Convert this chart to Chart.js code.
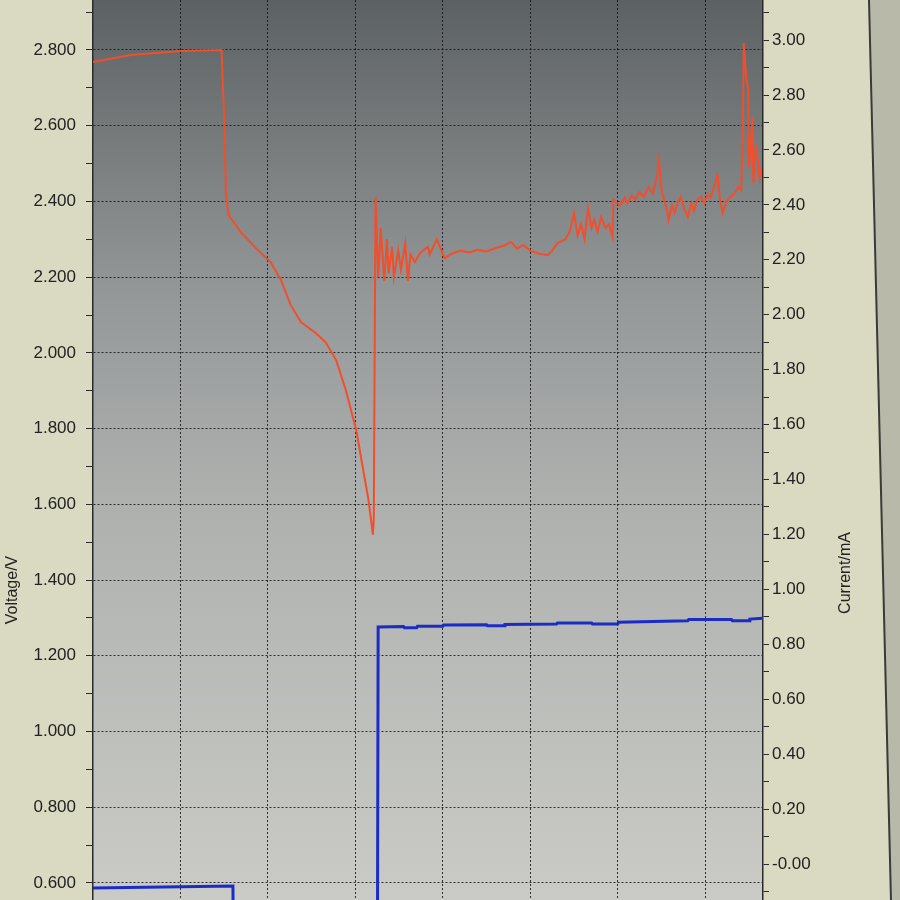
<!DOCTYPE html>
<html>
<head>
<meta charset="utf-8">
<title>Voltage / Current</title>
<script src="https://cdn.jsdelivr.net/npm/chart.js@4.4.1/dist/chart.umd.min.js"></script>
<style>
    html, body { margin: 0; padding: 0; background: #dad9c1; }
    #wrap { width: 900px; height: 900px; position: relative; }
</style>
</head>
<body>
<div id="wrap"><canvas id="ivChart"></canvas></div>
<script>

// ======================================================
// Data
// ======================================================

// x positions in grid divisions
const voltageX = [
    0.00, 0.43, 1.01, 1.47, 1.50, 1.52, 1.55, 1.69, 1.86, 2.03,
    2.15, 2.26, 2.38, 2.55, 2.66, 2.78, 2.89, 3.01, 3.09, 3.15,
    3.20, 3.21, 3.23, 3.26, 3.29, 3.33, 3.36, 3.38, 3.42, 3.44,
    3.49, 3.52, 3.57, 3.60, 3.63, 3.68, 3.73, 3.77, 3.83, 3.85,
    3.93, 4.02, 4.10, 4.20, 4.30, 4.40, 4.50, 4.60, 4.70, 4.78,
    4.85, 4.92, 5.00, 5.10, 5.20, 5.25, 5.31, 5.40, 5.45, 5.50,
    5.54, 5.58, 5.62, 5.66, 5.70, 5.73, 5.77, 5.81, 5.86, 5.90,
    5.94, 5.95, 6.03, 6.08, 6.11, 6.16, 6.20, 6.25, 6.30, 6.35,
    6.40, 6.45, 6.47, 6.50, 6.53, 6.56, 6.58, 6.62, 6.65, 6.69,
    6.72, 6.76, 6.80, 6.84, 6.87, 6.91, 6.95, 6.99, 7.03, 7.06,
    7.10, 7.14, 7.17, 7.20, 7.24, 7.29, 7.33, 7.38, 7.41, 7.43,
    7.44, 7.47, 7.49, 7.50, 7.52, 7.54, 7.55, 7.58, 7.60, 7.62,
    7.64
];

const voltageV = [
    2.768, 2.787, 2.797, 2.800, 2.615, 2.417, 2.364, 2.319, 2.277, 2.240,
    2.192, 2.126, 2.081, 2.052, 2.028, 1.981, 1.902, 1.796, 1.690, 1.611,
    1.520, 1.560, 2.412, 2.200, 2.330, 2.190, 2.300, 2.210, 2.280, 2.200,
    2.270, 2.220, 2.290, 2.190, 2.260, 2.240, 2.260, 2.270, 2.280, 2.260,
    2.300, 2.250, 2.262, 2.270, 2.265, 2.272, 2.268, 2.277, 2.283, 2.293,
    2.275, 2.285, 2.270, 2.262, 2.258, 2.270, 2.290, 2.300, 2.320, 2.369,
    2.310, 2.340, 2.300, 2.383, 2.330, 2.351, 2.320, 2.359, 2.330, 2.340,
    2.306, 2.404, 2.390, 2.410, 2.395, 2.415, 2.405, 2.425, 2.412, 2.438,
    2.420, 2.470, 2.509, 2.430, 2.404, 2.380, 2.351, 2.390, 2.370, 2.400,
    2.412, 2.380, 2.359, 2.395, 2.375, 2.405, 2.412, 2.395, 2.420, 2.410,
    2.438, 2.470, 2.400, 2.369, 2.400, 2.412, 2.420, 2.438, 2.430, 2.600,
    2.818, 2.720, 2.702, 2.491, 2.550, 2.623, 2.449, 2.550, 2.509, 2.460,
    2.490
];

const currentX = [
    0.00, 1.60, 1.61, 3.25, 3.26, 3.55, 3.56, 3.70, 3.71, 4.00,
    4.01, 4.50, 4.51, 4.70, 4.71, 5.30, 5.31, 5.70, 5.71, 6.00,
    6.01, 6.80, 6.81, 7.30, 7.31, 7.50, 7.51, 7.66
];

const currentI = [
    -0.087, -0.080, -0.600, -0.600, 0.863, 0.865, 0.860, 0.860, 0.866, 0.866,
    0.870, 0.871, 0.868, 0.868, 0.872, 0.874, 0.878, 0.878, 0.874, 0.874,
    0.880, 0.886, 0.890, 0.890, 0.886, 0.886, 0.892, 0.895
];

// vertical grid lines
const gridX = [1, 2, 3, 4, 5, 6, 7];

// left axis (voltage) major ticks and labels
const voltageTicks = [0.6, 0.8, 1.0, 1.2, 1.4, 1.6, 1.8, 2.0, 2.2, 2.4, 2.6, 2.8];
const voltageLabels = ["0.600", "0.800", "1.000", "1.200", "1.400", "1.600",
                       "1.800", "2.000", "2.200", "2.400", "2.600", "2.800"];

// right axis (current) major ticks and labels
const currentTicks = [0.0, 0.2, 0.4, 0.6, 0.8, 1.0, 1.2, 1.4, 1.6, 1.8, 2.0, 2.2, 2.4, 2.6, 2.8, 3.0];
const currentLabels = ["-0.00", "0.20", "0.40", "0.60", "0.80", "1.00", "1.20", "1.40",
                       "1.60", "1.80", "2.00", "2.20", "2.40", "2.60", "2.80", "3.00"];

// visible window of the photographed screen
const xRange = [0, 7.66];
const voltageRange = [0.555, 2.932];
const currentRange = [-0.131, 3.146];


// ======================================================
// Helpers
// ======================================================

function withMinorTicks(majors, step, min, max) {

    const out = [];

    for (let v = majors[0] - step; v <= majors[majors.length - 1] + step + 1e-9; v += step / 2) {

        const r = Math.round(v * 100) / 100;

        if (r >= min && r <= max) out.push({ value: r });

    }

    return out;

}

function labelFor(value, majors, labels) {

    const i = majors.findIndex(m => Math.abs(m - value) < 1e-6);

    return i >= 0 ? labels[i] : "";

}

function isMajor(value, majors) {

    return majors.some(m => Math.abs(m - value) < 1e-6);

}

const tickFont = { family: "'Liberation Sans', Arial, sans-serif", size: 17 };
const gridDotted = "rgba(20, 20, 20, 0.85)";


// ======================================================
// Background + rotated axis titles
// ======================================================

const screenPlugin = {

    id: "screen",

    beforeDraw(chart) {

        const { ctx, chartArea: a, width, height } = chart;

        ctx.save();

        ctx.fillStyle = "#dad9c1";
        ctx.fillRect(0, 0, width, height);

        // monitor bezel on the right
        ctx.fillStyle = "#b9b9aa";
        ctx.beginPath();
        ctx.moveTo(869, 0);
        ctx.lineTo(width, 0);
        ctx.lineTo(width, height);
        ctx.lineTo(891, height);
        ctx.closePath();
        ctx.fill();

        ctx.strokeStyle = "#3a3a38";
        ctx.lineWidth = 2;
        ctx.beginPath();
        ctx.moveTo(869, 0);
        ctx.lineTo(891, height);
        ctx.stroke();

        // plot area gradient
        const g = ctx.createLinearGradient(0, a.top, 0, a.bottom);
        g.addColorStop(0, "#5c6163");
        g.addColorStop(0.33, "#949899");
        g.addColorStop(0.55, "#aeb0ae");
        g.addColorStop(1, "#cacbc6");

        ctx.fillStyle = g;
        ctx.fillRect(a.left, a.top, a.right - a.left, a.bottom - a.top);

        ctx.restore();

    },

    afterDraw(chart) {

        const { ctx } = chart;

        ctx.save();

        ctx.fillStyle = "#222222";
        ctx.font = "16px 'Liberation Sans', Arial, sans-serif";
        ctx.textAlign = "center";
        ctx.textBaseline = "middle";

        ctx.translate(13, 590);
        ctx.rotate(-Math.PI / 2);
        ctx.fillText("Voltage/V", 0, 0);

        ctx.setTransform(1, 0, 0, 1, 0, 0);
        ctx.translate(846, 573);
        ctx.rotate(-Math.PI / 2);
        ctx.fillText("Current/mA", 0, 0);

        ctx.restore();

    }

};


// ======================================================
// Create Chart
// ======================================================

const ctx = document.getElementById("ivChart").getContext("2d");

const ivChart = new Chart(ctx, {

    type: "line",

    data: {

        datasets: [

            {
                label: "Voltage",
                data: voltageX.map((x, i) => ({ x: x, y: voltageV[i] })),
                yAxisID: "yV",
                borderColor: "#f24e2c",
                borderWidth: 2,
                pointRadius: 0,
                tension: 0
            },

            {
                label: "Current",
                data: currentX.map((x, i) => ({ x: x, y: currentI[i] })),
                yAxisID: "yI",
                borderColor: "#1b2cc6",
                borderWidth: 3,
                pointRadius: 0,
                tension: 0
            }

        ]

    },

    options: {

        responsive: true,

        maintainAspectRatio: false,

        animation: false,

        layout: { padding: 0 },

        plugins: {

            legend: { display: false },

            tooltip: { enabled: false }

        },

        scales: {

            x: {

                type: "linear",

                min: xRange[0],

                max: xRange[1],

                afterBuildTicks: scale => {
                    scale.ticks = gridX.map(v => ({ value: v }));
                },

                afterFit: scale => {
                    scale.height = 0;
                    scale.paddingLeft = 0;
                    scale.paddingRight = 0;
                },

                ticks: { display: false },

                grid: {
                    color: gridDotted,
                    lineWidth: 1,
                    drawTicks: false
                },

                border: { display: false, dash: [2, 2] }

            },

            yV: {

                type: "linear",

                position: "left",

                min: voltageRange[0],

                max: voltageRange[1],

                afterBuildTicks: scale => {
                    scale.ticks = withMinorTicks(voltageTicks, 0.2, voltageRange[0], voltageRange[1]);
                },

                afterFit: scale => {
                    scale.width = 93;
                    scale.paddingTop = 0;
                    scale.paddingBottom = 0;
                },

                ticks: {
                    color: "#222222",
                    font: tickFont,
                    padding: 10,
                    callback: value => labelFor(value, voltageTicks, voltageLabels)
                },

                grid: {
                    color: c => isMajor(c.tick.value, voltageTicks) ? gridDotted : "rgba(0,0,0,0)",
                    tickColor: "#2a2a2a",
                    tickLength: 7,
                    lineWidth: 1
                },

                border: { display: true, color: "#2a2a2a", width: 1.5, dash: [2, 2] }

            },

            yI: {

                type: "linear",

                position: "right",

                min: currentRange[0],

                max: currentRange[1],

                afterBuildTicks: scale => {
                    scale.ticks = withMinorTicks(currentTicks, 0.2, currentRange[0], currentRange[1]);
                },

                afterFit: scale => {
                    scale.width = 137;
                    scale.paddingTop = 0;
                    scale.paddingBottom = 0;
                },

                ticks: {
                    color: "#222222",
                    font: tickFont,
                    padding: 3,
                    callback: value => labelFor(value, currentTicks, currentLabels)
                },

                grid: {
                    drawOnChartArea: false,
                    tickColor: "#2a2a2a",
                    tickLength: 6
                },

                border: { display: true, color: "#2a2a2a", width: 1.5 }

            }

        }

    },

    plugins: [screenPlugin]

});

</script>
</body>
</html>
